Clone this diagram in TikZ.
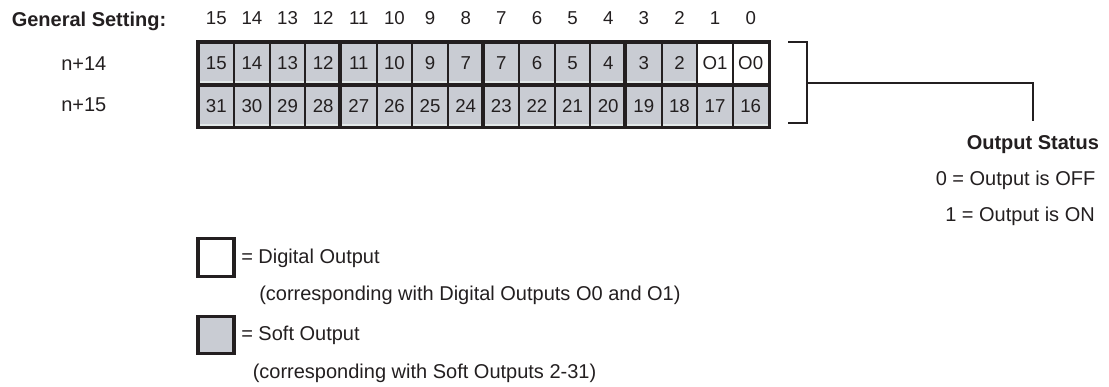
\documentclass[tikz,border=0pt]{standalone}
\usepackage{fontspec}
\setmainfont{Liberation Sans}
\usetikzlibrary{positioning}
\definecolor{softgray}{RGB}{201,204,211}
\definecolor{softedge}{RGB}{226,232,232}
\definecolor{ink}{RGB}{35,31,32}
\begin{document}
\begin{tikzpicture}[x=0.75pt, y=-0.75pt, draw=ink, text=ink,
        cell/.style={draw=ink, line width=1.5pt, minimum width=26.72pt, minimum height=30.75pt,
            inner sep=0pt, font=\fontsize{14}{16}\selectfont},
        soft/.style={cell, fill=softgray, path picture={
            \fill[softedge] (path picture bounding box.south west) rectangle
                ([yshift=1.6pt]path picture bounding box.south east);}},
        digital/.style={cell, fill=white},
        bitnum/.style={anchor=base, inner sep=0pt, font=\fontsize{14}{16}\selectfont},
        lbl/.style={anchor=base west, inner sep=0pt, font=\fontsize{15}{18}\selectfont},
        keybox/.style={draw=ink, line width=2.3pt, minimum width=27pt, minimum height=28pt, inner sep=0pt}]
    \useasboundingbox (0,0) rectangle (1109,386);

    \node[lbl, font=\fontsize{15}{18}\selectfont\bfseries] (general) at (11.5,26) {General Setting:};
    \node[lbl] (w14) at (61,70) {n+14};
    \node[lbl] (w15) at (61,111) {n+15};

    % word n+14
    \foreach \c/\t/\s in {15/15/soft,14/14/soft,13/13/soft,12/12/soft,11/11/soft,10/10/soft,
            9/9/soft,8/7/soft,7/7/soft,6/6/soft,5/5/soft,4/4/soft,3/3/soft,2/2/soft,1/O1/digital,0/O0/digital} {
        \pgfmathsetmacro\xc{198.5+(15.5-\c)*35.625}
        \node[\s] (n14-\c) at (\xc,63) {\t};
        \node[bitnum] (bit\c) at ([yshift=12.4pt]n14-\c.north) {\c};
    }
    % word n+15
    \foreach \c in {15,...,0} {
        \pgfmathtruncatemacro\v{\c+16}
        \node[soft, below=0pt of n14-\c] (n15-\c) {\v};
    }

    \draw[line width=2.3pt] (n14-15.north west) rectangle (n15-0.south east);
    \foreach \c in {11,7,3}
        \draw[line width=2.5pt] (n14-\c.north west) -- (n15-\c.south west);

    % bracket
    \coordinate (bt) at (788,42);
    \coordinate (bb) at (788,123);
    \coordinate (bm) at (807,83);
    \draw[line width=1.6pt] (bt) -- (807,42) -- (807,123) -- (bb);

    \node[lbl, font=\fontsize{15}{18}\selectfont\bfseries] (status) at (966.5,149) {Output Status};
    \node[lbl] (off) at (935.5,185.5) {0 = Output is OFF};
    \node[lbl] (on) at (945,221.5) {1 = Output is ON};
    \draw[line width=1.6pt] (bm) -| ([yshift=10pt]status.north);

    % key
    \node[keybox, fill=white] (digkey) at (216,257.5) {};
    \node[lbl] (digtxt) at (241,263.3) {= Digital Output};
    \node[lbl] (dignote) at (259,300) {(corresponding with Digital Outputs O0 and O1)};
    \node[keybox, fill=softgray] (softkey) at (216,335) {};
    \node[lbl] (softtxt) at (241,340.7) {= Soft Output};
    \node[lbl] (softnote) at (252.5,378) {(corresponding with Soft Outputs 2-31)};
\end{tikzpicture}
\end{document}
